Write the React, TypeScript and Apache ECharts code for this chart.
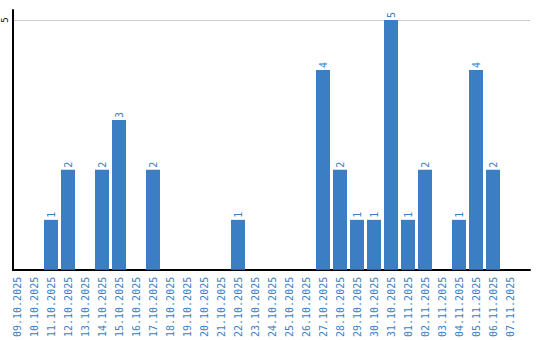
import React, { useEffect, useRef } from "react";
import * as echarts from "echarts";

const categories = [
  "09.10.2025", "10.10.2025", "11.10.2025", "12.10.2025", "13.10.2025",
  "14.10.2025", "15.10.2025", "16.10.2025", "17.10.2025", "18.10.2025",
  "19.10.2025", "20.10.2025", "21.10.2025", "22.10.2025", "23.10.2025",
  "24.10.2025", "25.10.2025", "26.10.2025", "27.10.2025", "28.10.2025",
  "29.10.2025", "30.10.2025", "31.10.2025", "01.11.2025", "02.11.2025",
  "03.11.2025", "04.11.2025", "05.11.2025", "06.11.2025", "07.11.2025",
];
const values = [0, 0, 1, 2, 0, 2, 3, 0, 2, 0, 0, 0, 0, 1, 0, 0, 0, 0, 4, 2, 1, 1, 5, 1, 2, 0, 1, 4, 2, 0];
const yTickLabels = [5];

const BLUE = "#3b7ec3";
const FONT = "DejaVu Sans Mono";

export default function App() {
  const ref = useRef<HTMLDivElement>(null);
  useEffect(() => {
    if (!ref.current) return;
    const chart = echarts.init(ref.current, undefined, { renderer: "svg" });
    chart.setOption({
      animation: false,
      grid: [
        { left: 8.5, width: 510, top: 10, bottom: 70 },
        { left: 11, right: 10, top: 10, bottom: 70 },
      ],
      xAxis: [
        {
          type: "category",
          gridIndex: 0,
          data: categories,
          axisLine: { show: false },
          axisTick: { show: false },
          axisLabel: {
            interval: 0,
            rotate: 90,
            margin: 7,
            color: BLUE,
            fontFamily: FONT,
            fontSize: 10,
          },
        },
        {
          type: "value",
          gridIndex: 1,
          min: 0,
          max: 1,
          axisLine: { show: true, lineStyle: { color: "#000", width: 2 } },
          axisTick: { show: false },
          axisLabel: { show: false },
          splitLine: { show: false },
        },
      ],
      yAxis: [
        {
          type: "value",
          gridIndex: 0,
          min: 0,
          max: 5.2,
          show: false,
          splitLine: { show: false },
        },
        {
          type: "value",
          gridIndex: 1,
          min: 0,
          max: 5.2,
          interval: 5,
          axisLine: { show: true, lineStyle: { color: "#000", width: 2 } },
          axisTick: { show: false },
          splitLine: {
            show: true,
            showMinLine: false,
            showMaxLine: false,
            lineStyle: { color: "#cccccc", width: 1 },
          },
          axisLabel: {
            rotate: 90,
            margin: 4,
            color: "#000",
            fontFamily: FONT,
            fontSize: 9,
            formatter: (v: number) => (yTickLabels.includes(v) ? String(v) : ""),
          },
        },
      ],
      series: [
        {
          type: "bar",
          xAxisIndex: 0,
          yAxisIndex: 0,
          data: values,
          barWidth: 14,
          itemStyle: { color: BLUE },
          label: {
            show: true,
            position: "top",
            rotate: 90,
            align: "left",
            verticalAlign: "middle",
            distance: 2,
            color: BLUE,
            fontFamily: FONT,
            fontSize: 10,
            formatter: (p: any) => (p.value === 0 ? "" : String(p.value)),
          },
        },
      ],
    });
    return () => chart.dispose();
  }, []);
  return (
    <div
      ref={ref}
      style={{ position: "absolute", left: 0, top: 0, width: 540, height: 340, background: "#fff" }}
    />
  );
}
